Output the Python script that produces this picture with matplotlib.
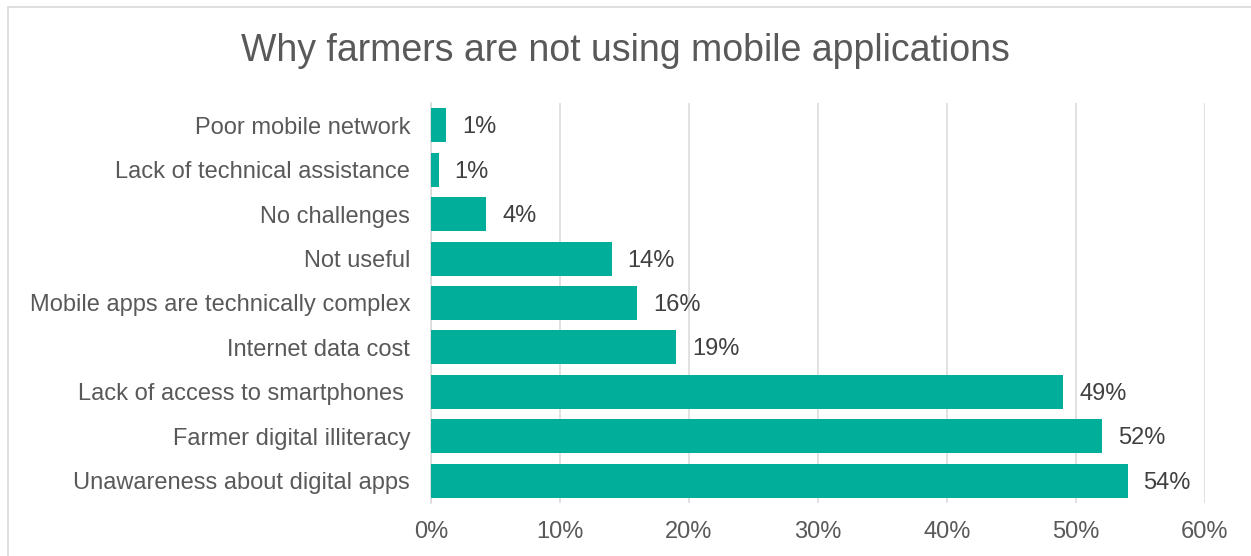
import matplotlib
matplotlib.use("Agg")
import matplotlib.pyplot as plt
from matplotlib.patches import Rectangle
from matplotlib.ticker import FuncFormatter, MultipleLocator

categories = [
    "Poor mobile network",
    "Lack of technical assistance",
    "No challenges",
    "Not useful",
    "Mobile apps are technically complex",
    "Internet data cost",
    "Lack of access to smartphones ",
    "Farmer digital illiteracy",
    "Unawareness about digital apps",
]
values = [1.2, 0.6, 4.3, 14.0, 16.0, 19.0, 49.0, 52.0, 54.0]
value_labels = ["1%", "1%", "4%", "14%", "16%", "19%", "49%", "52%", "54%"]
title = "Why farmers are not using mobile applications"

plt.rcParams["font.family"] = ["Liberation Sans", "DejaVu Sans"]
text_color = "#595959"
label_color = "#404040"
bar_color = "#00AE9A"
grid_color = "#D9D9D9"

W, H = 1251, 556
fig = plt.figure(figsize=(W / 100, H / 100), dpi=100)
ax = fig.add_axes([431 / W, 1 - 503 / H, (1205 - 431) / W, 400 / H])

y = list(range(len(categories)))
ax.barh(y, values, height=0.766, color=bar_color, zorder=3)
ax.set_ylim(len(categories) - 0.5, -0.5)
ax.set_xlim(0, 60)
ax.xaxis.set_major_locator(MultipleLocator(10))
ax.xaxis.set_major_formatter(FuncFormatter(lambda v, p: f"{v:.0f}%"))
ax.set_yticks(y)
ax.set_yticklabels(categories)
ax.tick_params(axis="y", length=0, pad=15, labelsize=17, labelcolor=text_color)
ax.tick_params(axis="x", length=0, pad=13, labelsize=17, labelcolor=text_color)
ax.grid(axis="x", color=grid_color, linewidth=1.1, zorder=0)
for s in ["top", "right", "bottom"]:
    ax.spines[s].set_visible(False)
ax.spines["left"].set_color(grid_color)
ax.spines["left"].set_linewidth(1.1)

for yi, v, lab in zip(y, values, value_labels):
    ax.annotate(lab, (v, yi), xytext=(16, -2), textcoords="offset pixels",
                va="center", ha="left", fontsize=17, color=label_color)

fig.text(0.5, 1 - 51 / H, title, ha="center", va="center",
         fontsize=27, color=text_color)

fig.patches.append(Rectangle((8 / W, -0.01), 1.1, 1 - 7 / H + 0.01,
                             transform=fig.transFigure, fill=False,
                             edgecolor="#D9D9D9", linewidth=1.2))

fig.savefig("out.png", dpi=100)
